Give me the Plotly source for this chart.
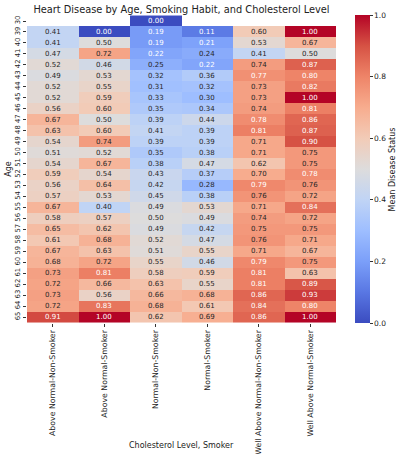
import plotly.graph_objects as go

title = "Heart Disease by Age, Smoking Habit, and Cholesterol Level"
categories = ["Above Normal-Non-Smoker", "Above Normal-Smoker", "Normal-Non-Smoker",
              "Normal-Smoker", "Well Above Normal-Non-Smoker", "Well Above Normal-Smoker"]
ages = ["30"] + [str(a) for a in range(39, 66)]
N = None
values = [
    [N, N, 0.00, N, N, N],
    [0.41, 0.00, 0.19, 0.11, 0.60, 1.00],
    [0.41, 0.50, 0.19, 0.21, 0.53, 0.67],
    [0.47, 0.72, 0.22, 0.24, 0.41, 0.50],
    [0.52, 0.46, 0.25, 0.22, 0.74, 0.87],
    [0.49, 0.53, 0.32, 0.36, 0.77, 0.80],
    [0.52, 0.55, 0.31, 0.32, 0.73, 0.82],
    [0.52, 0.59, 0.33, 0.30, 0.73, 1.00],
    [0.56, 0.60, 0.35, 0.34, 0.74, 0.81],
    [0.67, 0.50, 0.39, 0.44, 0.78, 0.86],
    [0.63, 0.60, 0.41, 0.39, 0.81, 0.87],
    [0.54, 0.74, 0.39, 0.39, 0.71, 0.90],
    [0.51, 0.52, 0.35, 0.38, 0.71, 0.75],
    [0.54, 0.67, 0.38, 0.47, 0.62, 0.75],
    [0.59, 0.54, 0.43, 0.37, 0.70, 0.78],
    [0.56, 0.64, 0.42, 0.28, 0.79, 0.76],
    [0.57, 0.53, 0.45, 0.38, 0.76, 0.72],
    [0.67, 0.40, 0.49, 0.53, 0.71, 0.84],
    [0.58, 0.57, 0.50, 0.49, 0.74, 0.72],
    [0.65, 0.62, 0.49, 0.42, 0.75, 0.75],
    [0.61, 0.68, 0.52, 0.47, 0.76, 0.71],
    [0.67, 0.63, 0.51, 0.55, 0.71, 0.67],
    [0.68, 0.72, 0.55, 0.46, 0.79, 0.75],
    [0.73, 0.81, 0.58, 0.59, 0.81, 0.63],
    [0.72, 0.66, 0.63, 0.55, 0.81, 0.89],
    [0.73, 0.56, 0.66, 0.68, 0.86, 0.93],
    [0.72, 0.83, 0.68, 0.61, 0.84, 0.80],
    [0.91, 1.00, 0.62, 0.69, 0.86, 1.00],
]

cw_hex = ["#3b4cc0", "#5977e3", "#7b9ff9", "#9ebeff", "#c0d4f5", "#dddcdc",
          "#f2cbb7", "#f7ac8e", "#ee8468", "#d65244", "#b40426"]
colorscale = [[i / 10, c] for i, c in enumerate(cw_hex)]

# text is white on the dark ends of the coolwarm scale
LOW_DARK, HIGH_DARK = 0.23, 0.765

fnt = "DejaVu Sans, Verdana, sans-serif"
fig = go.Figure()
fig.add_trace(go.Heatmap(
    z=values, x=categories, y=ages, colorscale=colorscale, zmin=0, zmax=1,
    hoverongaps=False,
    colorbar=dict(
        thickness=15, len=1, lenmode="fraction", y=0.5, yanchor="middle",
        x=1.063, xanchor="left", xpad=0, ypad=0, outlinewidth=0,
        tickvals=[0, 0.2, 0.4, 0.6, 0.8, 1.0], ticktext=["0.0", "0.2", "0.4", "0.6", "0.8", "1.0"],
        ticks="outside", ticklen=3, tickcolor="#333", tickfont=dict(size=7.5, color="#222"),
    ),
))

annotations = []
for r, age in enumerate(ages):
    for c, cat in enumerate(categories):
        v = values[r][c]
        if v is None:
            continue
        col = "white" if (v < LOW_DARK or v > HIGH_DARK) else "#262626"
        # category axes: position by category index
        annotations.append(dict(x=c, y=r, xref="x", yref="y", text=f"{v:.2f}",
                                showarrow=False, font=dict(size=7, color=col, family=fnt)))

annotations.append(dict(text="Cholesterol Level, Smoker", xref="paper", yref="paper",
                        x=0.5, y=-0.398, xanchor="center", yanchor="middle", showarrow=False,
                        font=dict(size=8, color="#222", family=fnt)))
annotations.append(dict(text="Mean Disease Status", xref="paper", yref="paper",
                        x=1.1826, y=0.5, xanchor="center", yanchor="middle", showarrow=False,
                        textangle=-90, font=dict(size=8, color="#222", family=fnt)))

fig.update_layout(
    width=402, height=454,
    margin=dict(l=27, r=65.5, t=15, b=131, autoexpand=False),
    paper_bgcolor="white", plot_bgcolor="white",
    font=dict(family=fnt, color="#222"),
    title=dict(text=title, x=0.5, xref="paper", y=1, yref="paper", yanchor="bottom",
               pad=dict(b=2), font=dict(size=9.8, color="#222")),
    annotations=annotations,
)
fig.update_xaxes(type="category", tickangle=-90, ticks="outside", ticklen=3, tickcolor="#333",
                 tickfont=dict(size=7.8, color="#222"), showgrid=False, zeroline=False, automargin=False)
fig.update_yaxes(type="category", autorange="reversed", tickangle=-90, ticks="outside", ticklen=3,
                 tickcolor="#333", tickfont=dict(size=6.8, color="#222"), showgrid=False, zeroline=False,
                 automargin=False,
                 title=dict(text="Age", font=dict(size=8, color="#222"), standoff=1))

fig.write_html("out.html", config={"displayModeBar": False},
               post_script="document.body.style.margin='0';")
